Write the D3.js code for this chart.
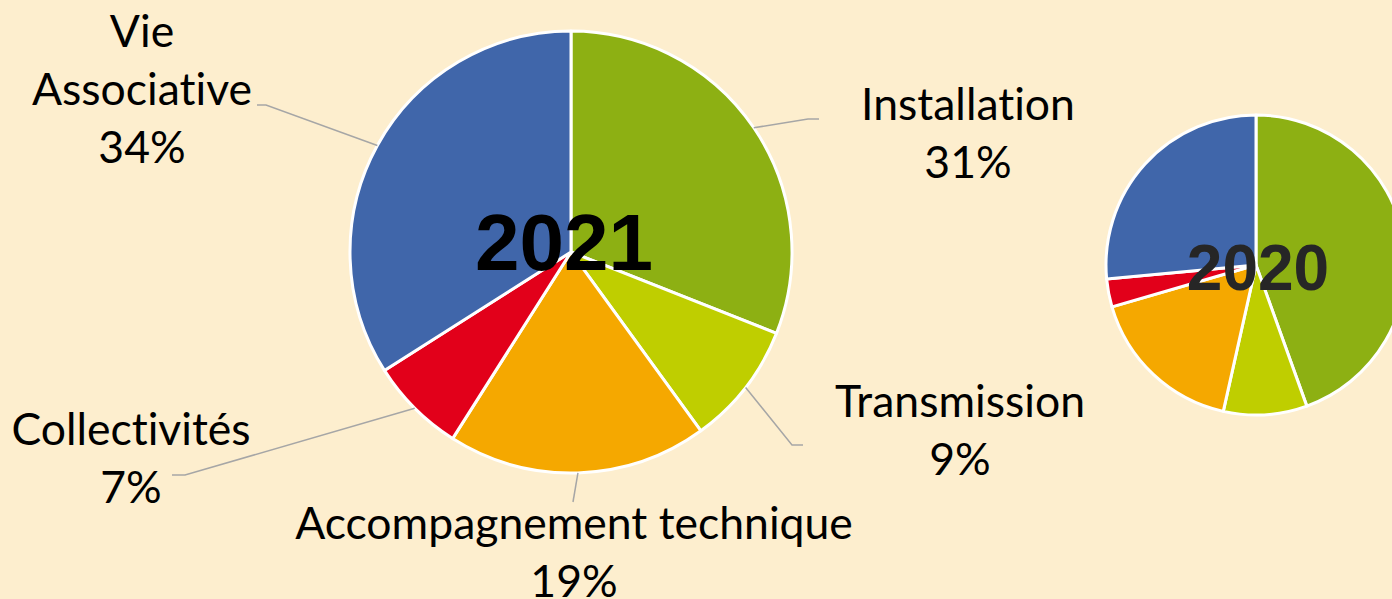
<!DOCTYPE html>
<html>
<head>
<meta charset="utf-8">
<script src="https://cdn.jsdelivr.net/npm/d3@7"></script>
<style>
  html, body { margin: 0; padding: 0; background: #fdeece; overflow: hidden; }
  svg { display: block; }
  text { font-variant-ligatures: none; font-feature-settings: "liga" 0; }
</style>
</head>
<body>
<svg id="chart"></svg>
<script>
// data
let categories = ["Installation", "Transmission", "Accompagnement technique", "Collectivités", "Vie Associative"]
let values2021 = [31, 9, 19, 7, 34]
let values2020 = [44.5, 9, 17, 3, 26.5]
let labelLines = [["Installation"], ["Transmission"], ["Accompagnement technique"], ["Collectivités"], ["Vie", "Associative"]]
let colors = ["#8db013", "#bfce00", "#f5a800", "#e2001a", "#4066aa"]

let width = 1392
let height = 599

// label layout: text centre x, first baseline y, elbow and end of leader line
let labelLayout = [
  {x: 968, y: 120, elbow: [808, 119], end: [819, 119]},
  {x: 960, y: 417, elbow: [792, 445], end: [803, 445]},
  {x: 574, y: 539, elbow: [573, 502], end: [573, 502]},
  {x: 131, y: 445, elbow: [185, 475], end: [172, 475]},
  {x: 142, y: 47, elbow: [266, 105], end: [257, 105]}
]
let lineHeight = 58

let svg = d3.select("#chart").attr("width", width).attr("height", height)

svg.append("rect").attr("width", width).attr("height", height).attr("fill", "#fdeece")

let pie = d3.pie().sort(null).value(d => d)

let color = d3.scaleOrdinal().domain(categories).range(colors)

let drawPie = (values, cx, cy, r) => {
  let arc = d3.arc().innerRadius(0).outerRadius(r)
  let g = svg.append("g").attr("transform", "translate(" + cx + "," + cy + ")")
  g.selectAll("path")
    .data(pie(values))
    .enter()
    .append("path")
    .attr("d", arc)
    .attr("fill", (d, i) => color(categories[i]))
    .attr("stroke", "#ffffff")
    .attr("stroke-width", 3)
    .attr("stroke-linejoin", "round")
  return {g: g, arcs: pie(values)}
}

// 2021 pie with labels
let cx1 = 571, cy1 = 252, r1 = 221
let p1 = drawPie(values2021, cx1, cy1, r1)

let leader = d3.line()
p1.arcs.forEach((d, i) => {
  let mid = (d.startAngle + d.endAngle) / 2
  let sx = cx1 + r1 * Math.sin(mid)
  let sy = cy1 - r1 * Math.cos(mid)
  let lay = labelLayout[i]
  svg.append("path")
    .attr("d", leader([[sx, sy], lay.elbow, lay.end]))
    .attr("fill", "none")
    .attr("stroke", "#a6a6a6")
    .attr("stroke-width", 1.5)

  let lines = labelLines[i].concat([values2021[i] + "%"])
  let t = svg.append("text")
    .attr("text-anchor", "middle")
    .attr("font-family", "Lato, 'Open Sans', sans-serif")
    .attr("font-size", 44.5)
    .attr("fill", "#000000")
  lines.forEach((s, j) => {
    t.append("tspan").attr("x", lay.x).attr("y", lay.y + j * lineHeight).text(s)
  })
})

svg.append("text")
  .attr("x", 564).attr("y", 270)
  .attr("text-anchor", "middle")
  .attr("font-family", "'Liberation Sans', Arial, sans-serif")
  .attr("font-weight", "bold")
  .attr("font-size", 80)
  .attr("fill", "#000000")
  .text("2021")

// 2020 pie
drawPie(values2020, 1256, 265, 150)
svg.append("text")
  .attr("x", 1258).attr("y", 290)
  .attr("text-anchor", "middle")
  .attr("font-family", "'Liberation Sans', Arial, sans-serif")
  .attr("font-weight", "bold")
  .attr("font-size", 64)
  .attr("fill", "#262626")
  .text("2020")
</script>
</body>
</html>
